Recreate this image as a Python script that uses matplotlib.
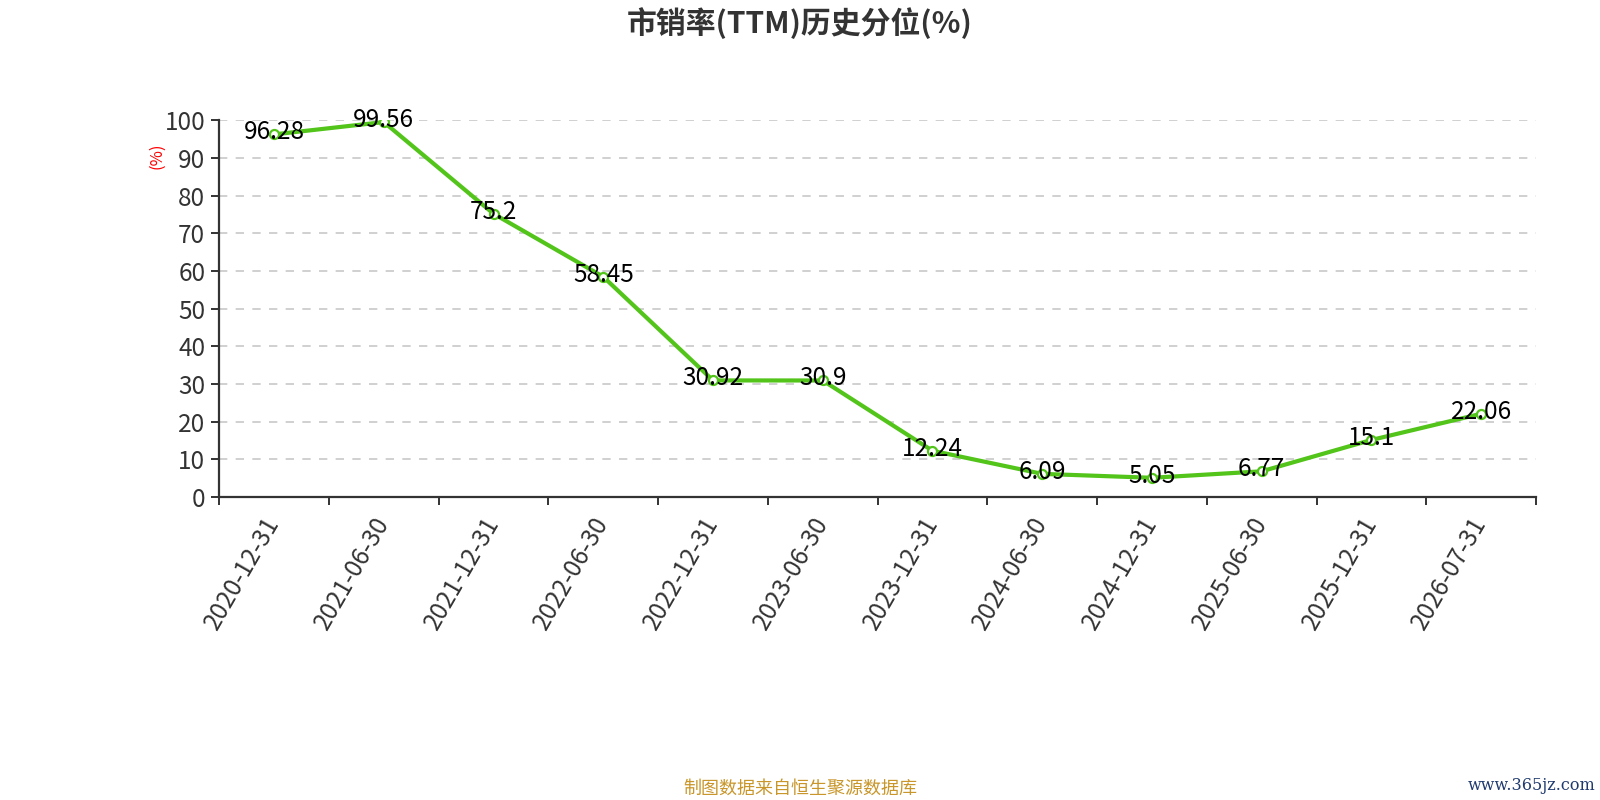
import matplotlib
matplotlib.use("Agg")
import matplotlib.pyplot as plt
import numpy as np

plt.rcParams['font.family'] = ['Noto Sans CJK SC', 'DejaVu Sans']

dates = ["2020-12-31", "2021-06-30", "2021-12-31", "2022-06-30", "2022-12-31", "2023-06-30",
         "2023-12-31", "2024-06-30", "2024-12-31", "2025-06-30", "2025-12-31", "2026-07-31"]
values = [96.28, 99.56, 75.2, 58.45, 30.92, 30.9, 12.24, 6.09, 5.05, 6.77, 15.1, 22.06]
labels = ["96.28", "99.56", "75.2", "58.45", "30.92", "30.9", "12.24", "6.09", "5.05", "6.77", "15.1", "22.06"]
yticks = [0, 10, 20, 30, 40, 50, 60, 70, 80, 90, 100]

title = "市销率(TTM)历史分位(%)"
ylabel = "(%)"
footer = "制图数据来自恒生聚源数据库"
watermark = "www.365jz.com"

line_color = "#52c41a"
axis_color = "#333333"

fig = plt.figure(figsize=(16, 8), dpi=100)
ax = fig.add_axes([0.137, 0.379, 0.823, 0.4705])

n = len(dates)
x = np.arange(n)
ax.plot(x, values, color=line_color, lw=3, zorder=3,
        marker='o', markersize=6.5, markerfacecolor='white',
        markeredgecolor=line_color, markeredgewidth=1.6)

for xi, v, lab in zip(x, values, labels):
    ax.annotate(lab, (xi, v), xytext=(0, 1.5), textcoords='offset points',
                ha='center', va='center', fontsize=17.5, color='black', zorder=4)

ax.set_xlim(-0.5, n - 0.5)
ax.set_ylim(0, 100)
ax.set_yticks(yticks)
ax.set_yticklabels([str(t) for t in yticks], fontsize=17.5, color=axis_color)

ax.set_xticks(x)
ax.set_xticklabels(dates, rotation=60, ha='right', va='center', rotation_mode='anchor',
                   fontsize=17.5, color=axis_color)
ax.tick_params(axis='x', length=0, pad=16)
ax.set_xticks(np.arange(-0.5, n, 1.0), minor=True)
ax.tick_params(axis='x', which='minor', length=6, width=1.4, color=axis_color, direction='out')
ax.tick_params(axis='y', length=6, width=1.4, color=axis_color, direction='out', pad=4)

ax.grid(axis='y', linestyle=(0, (5, 5)), color='#c8c8c8', lw=1.2, zorder=0)
ax.set_axisbelow(True)

for s in ['top', 'right']:
    ax.spines[s].set_visible(False)
for s in ['left', 'bottom']:
    ax.spines[s].set_color(axis_color)
    ax.spines[s].set_linewidth(1.6)

fig.text(0.098, 0.805, ylabel, rotation=90, color='red', fontsize=12,
         ha='center', va='center')

fig.text(0.5, 0.971, title, ha='center', va='center', fontsize=21.5,
         fontweight='bold', color=axis_color)
fig.text(0.5, 0.014, footer, ha='center', va='center', fontsize=13, color='#c8962a')
fig.text(0.997, 0.018, watermark, ha='right', va='center', fontsize=11.5,
         color='#1f3a6e', family=['DejaVu Serif'])

fig.savefig("out.png", dpi=100, facecolor='white')
